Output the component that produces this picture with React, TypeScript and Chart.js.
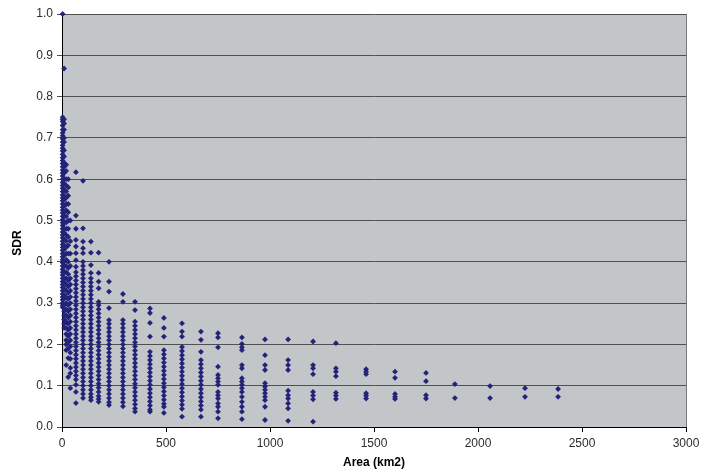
import React, { useEffect, useRef } from "react";
import { Chart, registerables } from "chart.js";

Chart.register(...registerables);

// Column areas (km2) and SDR values
const sdr_a3 = [1.0, 0.75, 0.745, 0.74, 0.73, 0.72, 0.712, 0.705, 0.698, 0.69, 0.682, 0.675, 0.668, 0.66, 0.652, 0.645, 0.638, 0.63, 0.622, 0.615, 0.608, 0.6, 0.592, 0.585, 0.578, 0.57, 0.562, 0.555, 0.548, 0.54, 0.532, 0.525, 0.518, 0.51, 0.502, 0.495, 0.488, 0.48, 0.472, 0.465, 0.458, 0.45, 0.442, 0.435, 0.428, 0.42, 0.412, 0.405, 0.398, 0.39, 0.382, 0.375, 0.368, 0.36, 0.352, 0.345, 0.338, 0.33, 0.322, 0.315, 0.308, 0.3, 0.295, 0.29];
const sdr_a10 = [0.868, 0.745, 0.735, 0.72, 0.7, 0.69, 0.67, 0.655, 0.64, 0.63, 0.615, 0.6, 0.59, 0.575, 0.56, 0.55, 0.535, 0.52, 0.51, 0.495, 0.48, 0.47, 0.455, 0.44, 0.43, 0.415, 0.4, 0.39, 0.375, 0.36, 0.35, 0.335, 0.32, 0.31, 0.295, 0.28, 0.27, 0.26, 0.25, 0.24];
const sdr_a20 = [0.635, 0.62, 0.6, 0.585, 0.57, 0.555, 0.54, 0.525, 0.51, 0.495, 0.48, 0.465, 0.45, 0.435, 0.42, 0.405, 0.39, 0.375, 0.36, 0.345, 0.33, 0.315, 0.3, 0.285, 0.27, 0.255, 0.24, 0.225, 0.21, 0.2, 0.186, 0.15];
const sdr_a30 = [0.6, 0.58, 0.56, 0.54, 0.52, 0.5, 0.48, 0.46, 0.44, 0.42, 0.4, 0.385, 0.37, 0.355, 0.34, 0.325, 0.31, 0.295, 0.28, 0.265, 0.25, 0.235, 0.22, 0.205, 0.19, 0.167, 0.121];
const sdr_a40 = [0.5, 0.45, 0.42, 0.39, 0.36, 0.345, 0.33, 0.315, 0.3, 0.285, 0.27, 0.255, 0.24, 0.225, 0.21, 0.195, 0.18, 0.165, 0.143, 0.13, 0.094];
const sdr_a67 = [0.617, 0.512, 0.48, 0.453, 0.437, 0.421, 0.404, 0.388, 0.375, 0.365, 0.355, 0.345, 0.335, 0.325, 0.315, 0.305, 0.295, 0.285, 0.275, 0.265, 0.255, 0.245, 0.235, 0.225, 0.215, 0.205, 0.195, 0.185, 0.175, 0.165, 0.155, 0.145, 0.135, 0.125, 0.115, 0.102, 0.085, 0.058];
const sdr_a101 = [0.596, 0.481, 0.449, 0.433, 0.421, 0.4, 0.39, 0.38, 0.37, 0.36, 0.35, 0.34, 0.33, 0.32, 0.31, 0.3, 0.29, 0.28, 0.27, 0.26, 0.25, 0.24, 0.23, 0.22, 0.21, 0.2, 0.19, 0.18, 0.17, 0.16, 0.15, 0.14, 0.13, 0.12, 0.11, 0.1, 0.09, 0.08, 0.07];
const sdr_a139 = [0.449, 0.422, 0.392, 0.373, 0.36, 0.35, 0.34, 0.33, 0.32, 0.31, 0.3, 0.29, 0.28, 0.27, 0.26, 0.25, 0.24, 0.23, 0.22, 0.21, 0.2, 0.19, 0.18, 0.17, 0.16, 0.15, 0.14, 0.13, 0.12, 0.11, 0.1, 0.09, 0.08, 0.072, 0.065];
const sdr_a176 = [0.422, 0.373, 0.352, 0.336, 0.303, 0.295, 0.285, 0.275, 0.265, 0.255, 0.245, 0.235, 0.225, 0.215, 0.205, 0.195, 0.185, 0.175, 0.165, 0.155, 0.145, 0.135, 0.125, 0.115, 0.105, 0.095, 0.085, 0.075, 0.068, 0.061];
const sdr_a226 = [0.4, 0.352, 0.328, 0.288, 0.259, 0.25, 0.24, 0.23, 0.22, 0.21, 0.2, 0.19, 0.18, 0.17, 0.16, 0.15, 0.14, 0.13, 0.12, 0.11, 0.1, 0.09, 0.08, 0.07, 0.06, 0.053];
const sdr_a293 = [0.322, 0.303, 0.259, 0.25, 0.24, 0.23, 0.22, 0.21, 0.2, 0.19, 0.18, 0.17, 0.16, 0.15, 0.14, 0.13, 0.12, 0.11, 0.1, 0.09, 0.08, 0.07, 0.06, 0.05];
const sdr_a351 = [0.303, 0.283, 0.255, 0.245, 0.235, 0.225, 0.215, 0.205, 0.195, 0.185, 0.175, 0.165, 0.155, 0.145, 0.135, 0.125, 0.115, 0.105, 0.095, 0.085, 0.075, 0.065, 0.055, 0.045, 0.037];
const sdr_a423 = [0.287, 0.276, 0.252, 0.219, 0.182, 0.172, 0.162, 0.152, 0.142, 0.132, 0.122, 0.112, 0.102, 0.092, 0.082, 0.072, 0.062, 0.052, 0.042, 0.037];
const sdr_a490 = [0.264, 0.24, 0.219, 0.186, 0.176, 0.166, 0.156, 0.146, 0.136, 0.126, 0.116, 0.106, 0.096, 0.086, 0.076, 0.066, 0.056, 0.049, 0.034];
const sdr_a577 = [0.251, 0.231, 0.219, 0.194, 0.184, 0.174, 0.164, 0.154, 0.144, 0.134, 0.124, 0.114, 0.104, 0.094, 0.084, 0.074, 0.064, 0.054, 0.044, 0.025];
const sdr_a668 = [0.231, 0.211, 0.182, 0.162, 0.152, 0.142, 0.132, 0.122, 0.112, 0.102, 0.092, 0.082, 0.072, 0.062, 0.052, 0.042, 0.025];
const sdr_a750 = [0.227, 0.217, 0.193, 0.146, 0.126, 0.118, 0.11, 0.102, 0.085, 0.077, 0.069, 0.057, 0.049, 0.037, 0.021];
const sdr_a865 = [0.217, 0.201, 0.193, 0.186, 0.15, 0.142, 0.118, 0.11, 0.102, 0.094, 0.085, 0.073, 0.061, 0.049, 0.037, 0.019];
const sdr_a976 = [0.212, 0.174, 0.15, 0.138, 0.106, 0.098, 0.09, 0.082, 0.073, 0.065, 0.049, 0.017];
const sdr_a1087 = [0.212, 0.162, 0.15, 0.138, 0.088, 0.077, 0.069, 0.057, 0.045, 0.015];
const sdr_a1207 = [0.207, 0.15, 0.142, 0.128, 0.085, 0.076, 0.067, 0.013];
const sdr_a1317 = [0.203, 0.142, 0.134, 0.123, 0.083, 0.076, 0.068];
const sdr_a1462 = [0.14, 0.134, 0.128, 0.082, 0.076, 0.069];
const sdr_a1601 = [0.134, 0.119, 0.08, 0.073, 0.068];
const sdr_a1750 = [0.131, 0.111, 0.077, 0.069];
const sdr_a1889 = [0.104, 0.07];
const sdr_a2058 = [0.099, 0.07];
const sdr_a2226 = [0.094, 0.073];
const sdr_a2385 = [0.092, 0.073];

const columnAreas = [3, 10, 20, 30, 40, 67, 101, 139, 176, 226, 293, 351, 423, 490, 577, 668, 750, 865, 976, 1087, 1207, 1317, 1462, 1601, 1750, 1889, 2058, 2226, 2385];
const columnValues = [sdr_a3, sdr_a10, sdr_a20, sdr_a30, sdr_a40, sdr_a67, sdr_a101, sdr_a139, sdr_a176, sdr_a226, sdr_a293, sdr_a351, sdr_a423, sdr_a490, sdr_a577, sdr_a668, sdr_a750, sdr_a865, sdr_a976, sdr_a1087, sdr_a1207, sdr_a1317, sdr_a1462, sdr_a1601, sdr_a1750, sdr_a1889, sdr_a2058, sdr_a2226, sdr_a2385];

const xTitle = "Area (km2)";
const yTitle = "SDR";

export default function App() {
  const ref = useRef<HTMLCanvasElement>(null);

  useEffect(() => {
    if (!ref.current) return;
    const points: { x: number; y: number }[] = [];
    columnAreas.forEach((a, i) => {
      columnValues[i].forEach((v) => points.push({ x: a, y: v }));
    });

    const bgPlugin = {
      id: "plotBg",
      beforeDraw(chart: any) {
        const { ctx, chartArea } = chart;
        ctx.save();
        ctx.fillStyle = "#c3c6c9";
        ctx.fillRect(chartArea.left, chartArea.top, chartArea.right - chartArea.left, chartArea.bottom - chartArea.top);
        ctx.restore();
      },
      afterDraw(chart: any) {
        const { ctx, chartArea } = chart;
        ctx.save();
        ctx.strokeStyle = "#7a7a7a";
        ctx.lineWidth = 1;
        ctx.beginPath();
        ctx.moveTo(Math.round(chartArea.right) + 0.5, chartArea.top);
        ctx.lineTo(Math.round(chartArea.right) + 0.5, chartArea.bottom);
        ctx.stroke();
        // y axis title
        ctx.fillStyle = "#000";
        ctx.font = "bold 12px 'Liberation Sans', Arial, sans-serif";
        ctx.textAlign = "center";
        ctx.textBaseline = "middle";
        ctx.translate(18, 243);
        ctx.rotate(-Math.PI / 2);
        ctx.fillText(yTitle, 0, 0);
        ctx.restore();
      },
    };

    const chart = new Chart(ref.current, {
      type: "scatter",
      data: {
        datasets: [
          {
            label: yTitle,
            data: points,
            pointStyle: "rectRot",
            pointRadius: 2.9,
            pointBorderWidth: 0,
            backgroundColor: "#23237a",
            borderColor: "#23237a",
            clip: false,
          },
        ],
      },
      options: {
        animation: false,
        responsive: false,
        maintainAspectRatio: false,
        layout: { padding: { top: 14, right: 32, left: 0, bottom: 0 } },
        plugins: { legend: { display: false }, tooltip: { enabled: false } },
        scales: {
          x: {
            type: "linear",
            min: 0,
            max: 3000,
            afterFit: (s: any) => { s.height = 47; },
            ticks: {
              stepSize: 500,
              padding: 4,
              color: "#2a2a2a",
              font: { family: "'Liberation Sans', Arial, sans-serif", size: 12 },
              maxRotation: 0,
              callback: (v: any) => String(v),
            },
            grid: { drawOnChartArea: false, drawTicks: true, tickLength: 5, color: "#000" },
            border: { color: "#000", width: 1 },
            title: {
              display: true,
              text: xTitle,
              color: "#000",
              font: { family: "'Liberation Sans', Arial, sans-serif", size: 12, weight: "bold" },
              padding: { top: 0, bottom: 4 },
            },
          },
          y: {
            type: "linear",
            min: 0,
            max: 1,
            afterFit: (s: any) => { s.width = 62; },
            ticks: {
              stepSize: 0.1,
              padding: 4,
              color: "#2a2a2a",
              font: { family: "'Liberation Sans', Arial, sans-serif", size: 12 },
              callback: (v: any) => Number(v).toFixed(1),
            },
            grid: { color: "#505050", lineWidth: 1, drawTicks: true, tickLength: 5 },
            border: { color: "#000", width: 1 },
          },
        },
      },
      plugins: [bgPlugin],
    });
    return () => chart.destroy();
  }, []);

  return (
    <div style={{ position: "absolute", left: 0, top: 0, width: 718, height: 474, background: "#fff" }}>
      <canvas ref={ref} width={718} height={474} style={{ display: "block" }} />
    </div>
  );
}
